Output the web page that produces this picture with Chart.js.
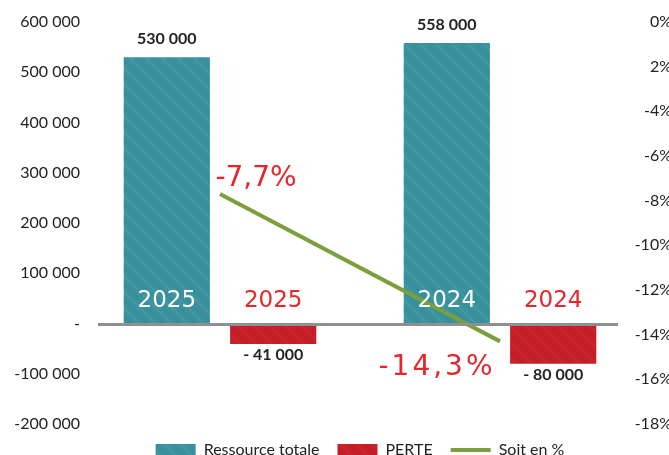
<!DOCTYPE html>
<html>
<head>
<meta charset="utf-8">
<script src="https://cdn.jsdelivr.net/npm/chart.js@4/dist/chart.umd.min.js"></script>
<style>
  html, body { margin: 0; padding: 0; background: #fff; }
  canvas { display: block; }
</style>
</head>
<body>
<canvas id="chart" width="669" height="455"></canvas>
<script>
// données
const years = ['2025', '2024'];
const ressource = [530000, 558000];
const perte = [-41000, -80000];
const pct = [-7.7, -14.3];

const leftTicks = [600000, 500000, 400000, 300000, 200000, 100000, 0, -100000, -200000];
const leftTickLabels = ['600 000', '500 000', '400 000', '300 000', '200 000', '100 000', '-', '-100 000', '-200 000'];
const pctTicks = [0, -2, -4, -6, -8, -10, -12, -14, -16, -18];
const pctTickLabels = ['0%', '2%', '-4%', '-6%', '-8%', '-10%', '-12%', '-14%', '-16%', '-18%'];

const TEAL = '#39929d';
const RED = '#c61f29';
const GREEN = '#7b9f3c';
const HAND_RED = '#e5262c';

Chart.defaults.font.family = 'Lato, "Open Sans", sans-serif';
Chart.defaults.font.size = 16;
Chart.defaults.color = '#222';

// texture "feutre" des barres
function makePattern(base, light, dark) {
    const c = document.createElement('canvas');
    c.width = 48; c.height = 48;
    const g = c.getContext('2d');
    g.fillStyle = base;
    g.fillRect(0, 0, 48, 48);
    g.lineWidth = 2;
    for (let i = -48; i < 96; i += 8) {
        g.strokeStyle = (i / 8) % 2 ? light : dark;
        g.beginPath();
        g.moveTo(i, 0);
        g.lineTo(i + 48, 48);
        g.stroke();
    }
    return g.createPattern(c, 'repeat');
}

const ctx = document.getElementById('chart').getContext('2d');
const tealFill = makePattern(TEAL, 'rgba(255,255,255,0.06)', 'rgba(0,0,0,0.03)');
const redFill = makePattern(RED, 'rgba(255,255,255,0.03)', 'rgba(0,0,0,0.04)');

function fmt(v) {
    const s = String(Math.abs(v)).replace(/\B(?=(\d{3})+(?!\d))/g, ' ');
    return v < 0 ? '- ' + s : s;
}

// ligne du zéro + étiquettes
const labelsPlugin = {
    id: 'labels',
    afterDatasetsDraw(chart) {
        const c = chart.ctx;
        const y0 = chart.scales.y.getPixelForValue(0);
        const area = chart.chartArea;

        c.save();
        c.strokeStyle = '#8f8f8f';
        c.lineWidth = 3;
        c.beginPath();
        c.moveTo(area.left + 18, y0 + 1);
        c.lineTo(area.right - 22, y0 + 1);
        c.stroke();

        c.textAlign = 'center';
        c.textBaseline = 'middle';

        [0, 1].forEach(di => {
            const meta = chart.getDatasetMeta(di);
            const vals = chart.data.datasets[di].data;
            meta.data.forEach((bar, i) => {
                c.font = 'bold 16px Lato';
                c.fillStyle = '#222';
                if (vals[i] >= 0) {
                    c.fillText(fmt(vals[i]), bar.x, bar.y - 18);
                } else {
                    c.fillText(fmt(vals[i]), bar.x, bar.y + 11);
                }
                c.font = '23px "DejaVu Sans"';
                c.fillStyle = di === 0 ? '#fff' : HAND_RED;
                c.fillText(years[i], bar.x, y0 - 22);
            });
        });

        const pts = chart.getDatasetMeta(2).data;
        c.fillStyle = HAND_RED;
        c.font = '28px "DejaVu Sans"';
        c.fillText(String(pct[0]).replace('.', ',') + '%', pts[0].x + 36, pts[0].y - 15);
        c.letterSpacing = '3px';
        c.fillText(String(pct[1]).replace('.', ',') + '%', pts[1].x - 63, pts[1].y + 26);
        c.restore();
    }
};

new Chart(ctx, {
    type: 'bar',
    data: {
        labels: years,
        datasets: [
            {
                label: 'Ressource totale',
                data: ressource,
                backgroundColor: tealFill,
                pointStyle: 'rect',
                yAxisID: 'y'
            },
            {
                label: 'PERTE',
                data: perte,
                backgroundColor: redFill,
                pointStyle: 'rect',
                yAxisID: 'y'
            },
            {
                type: 'line',
                label: 'Soit en %',
                data: pct,
                borderColor: GREEN,
                backgroundColor: GREEN,
                borderWidth: 4,
                pointRadius: 0,
                pointStyle: 'line',
                yAxisID: 'y1',
                order: -1
            }
        ]
    },
    options: {
        responsive: false,
        animation: false,
        layout: { padding: { top: 22, right: -3, left: 0, bottom: -13 } },
        datasets: {
            bar: { categoryPercentage: 0.76, barPercentage: 0.81 }
        },
        plugins: {
            legend: {
                position: 'bottom',
                fullSize: false,
                labels: {
                    usePointStyle: true,
                    pointStyleWidth: 40,
                    boxHeight: 12,
                    padding: 18,
                    font: { size: 16 },
                    sort: (a, b) => a.datasetIndex - b.datasetIndex
                }
            },
            tooltip: { enabled: false }
        },
        scales: {
            x: {
                display: false
            },
            y: {
                position: 'left',
                min: -200000,
                max: 600000,
                grid: { display: false, drawTicks: false },
                border: { display: false },
                ticks: {
                    stepSize: 100000,
                    padding: 0,
                    callback: v => leftTickLabels[leftTicks.indexOf(v)]
                },
                afterFit: s => { s.width = 80; }
            },
            y1: {
                position: 'right',
                min: -18,
                max: 0,
                grid: { display: false, drawTicks: false },
                border: { display: false },
                ticks: {
                    stepSize: 2,
                    mirror: true,
                    padding: 32,
                    callback: v => pctTickLabels[pctTicks.indexOf(v)]
                },
                afterFit: s => {
                    s.width = 32;
                    s.paddingTop = 10;
                    s.paddingBottom = 10;
                }
            }
        }
    },
    plugins: [labelsPlugin]
});
</script>
</body>
</html>
